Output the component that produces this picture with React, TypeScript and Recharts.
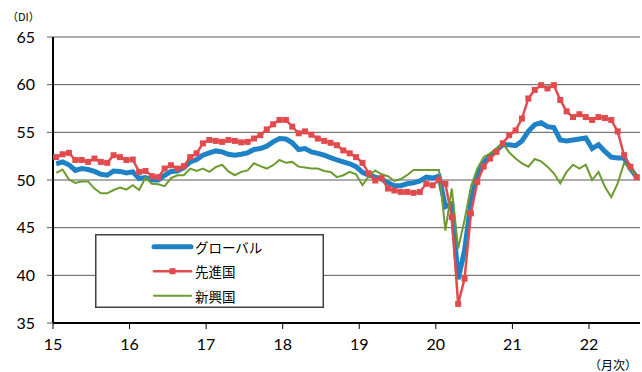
import React from 'react';
import { LineChart, Line, XAxis, YAxis, CartesianGrid, Legend } from 'recharts';

// Manufacturing PMI (DI), monthly, Jan 2015 – Aug 2022
const yearLabels = ['15', '16', '17', '18', '19', '20', '21', '22'];
const yTicks = [35, 40, 45, 50, 55, 60, 65];

const globalPmi = [
  51.7, 51.9, 51.6, 51.0, 51.2, 51.1, 50.9, 50.6, 50.5, 50.95, 50.9, 50.75,
  50.85, 50.15, 50.25, 50.0, 50.0, 50.5, 50.9, 50.95, 51.3, 51.9, 52.15, 52.6,
  52.85, 53.05, 52.95, 52.7, 52.6, 52.7, 52.85, 53.2, 53.3, 53.55, 54.0, 54.35,
  54.3, 53.9, 53.2, 53.3, 52.95, 52.8, 52.6, 52.35, 52.1, 51.9, 51.7, 51.4,
  50.8, 50.5, 50.3, 50.1, 49.7, 49.4, 49.4, 49.6, 49.7, 49.9, 50.3, 50.2,
  50.4, 47.2, 47.5, 39.6, 42.6, 47.7, 50.6, 51.8, 52.5, 53.1, 53.7, 53.7,
  53.6, 54.1, 55.1, 55.8, 56.0, 55.6, 55.5, 54.2, 54.1, 54.2, 54.3, 54.4,
  53.3, 53.7, 53.0, 52.4, 52.3, 52.3, 51.2, 50.3,
];

const advancedPmi = [
  52.4, 52.7, 52.85, 52.1, 52.1, 51.9, 52.25, 51.9, 51.8, 52.6, 52.4, 52.1,
  52.15, 50.85, 50.95, 50.4, 50.3, 51.2, 51.55, 51.2, 51.45, 52.4, 52.8, 53.85,
  54.2, 54.1, 54.0, 54.2, 54.1, 53.95, 54.0, 54.35, 54.7, 55.3, 55.85, 56.3,
  56.3, 55.6, 54.9, 55.1, 54.75, 54.35, 54.1, 53.9, 53.65, 53.1, 52.8, 52.4,
  51.8, 50.7, 49.95, 50.2, 49.1, 48.9, 48.75, 48.75, 48.65, 48.75, 49.6, 49.45,
  50.0, 49.6, 46.1, 37.0, 39.65, 46.5, 49.8, 51.4, 52.25, 52.95, 53.85, 54.7,
  55.2, 56.45, 58.55, 59.45, 59.95, 59.6, 59.95, 58.4, 57.2, 56.6, 56.9, 56.6,
  56.3, 56.6, 56.5, 56.3, 55.1, 52.6, 51.4, 50.3,
];

const emergingPmi = [
  50.75, 51.1, 50.05, 49.7, 49.85, 49.85, 49.1, 48.6, 48.6, 48.95, 49.2, 49.0,
  49.45, 48.95, 50.25, 49.6, 49.55, 49.35, 50.2, 50.5, 50.5, 51.2, 50.95, 51.2,
  50.85, 51.35, 51.6, 50.9, 50.5, 50.85, 51.0, 51.75, 51.45, 51.2, 51.55, 52.1,
  51.8, 51.9, 51.4, 51.3, 51.2, 51.2, 50.95, 50.85, 50.3, 50.5, 50.85, 50.6,
  49.45, 50.4, 51.0, 50.6, 50.4, 49.9, 50.1, 50.5, 51.05, 51.05, 51.05, 51.05,
  51.05, 44.7, 49.1, 42.8, 45.8, 49.3, 51.2, 52.4, 52.8, 53.3, 53.85, 52.9,
  52.25, 51.75, 51.4, 52.2, 51.95, 51.4, 50.7, 49.65, 50.85, 51.6, 51.2, 51.6,
  50.0, 50.85, 49.3, 48.2, 49.65, 51.75, 51.2, 50.2,
];

const seriesNames = ['グローバル', '先進国', '新興国'];
const BLUE = '#1f82c6';
const RED = '#e14b4d';
const GREEN = '#6c9b2e';
const NUM_FONT = 'Lato, "DejaVu Sans", sans-serif';
const JP_FONT = '"Noto Sans CJK JP", sans-serif';

// each month sits in the middle of its slot; year ticks fall on slot edges
const data = globalPmi.map((v, i) => ({
  t: i + 0.5,
  global: v,
  advanced: advancedPmi[i],
  emerging: emergingPmi[i],
}));
const xTicks = yearLabels.map((_, k) => k * 12);

const SquareDot = (props: any) => {
  const { cx, cy, index } = props;
  if (cx == null || cy == null) return <g key={`sq-${index}`} />;
  return <rect key={`sq-${index}`} x={cx - 3} y={cy - 3} width={6} height={6} fill={RED} />;
};

const LegendBox = () => {
  const rows = [
    { name: seriesNames[0], color: BLUE, width: 5, marker: false },
    { name: seriesNames[1], color: RED, width: 2.5, marker: true },
    { name: seriesNames[2], color: GREEN, width: 2, marker: false },
  ];
  return (
    <svg width={229} height={74} style={{ display: 'block' }}>
      <rect x={0.75} y={0.75} width={227.5} height={72.5} fill="#fff" stroke="#404040" strokeWidth={1.5} />
      {rows.map((r, k) => {
        const y = 12.7 + k * 24.5;
        return (
          <g key={r.name}>
            <line x1={59} x2={96} y1={y} y2={y} stroke={r.color} strokeWidth={r.width} strokeLinecap="round" />
            {r.marker && <rect x={74.5} y={y - 3} width={6} height={6} fill={RED} />}
            <text x={100} y={y} dominantBaseline="central" fontSize={13.5} fontFamily={JP_FONT} fill="#000">
              {r.name}
            </text>
          </g>
        );
      })}
    </svg>
  );
};

export default function App() {
  return (
    <div style={{ position: 'absolute', left: 0, top: 0, width: 642, height: 372, background: '#fff' }}>
      <LineChart width={642} height={372} data={data} margin={{ top: 37, right: 2, bottom: 0, left: 0 }}>
        <CartesianGrid vertical={false} stroke="#595959" />
        <XAxis
          type="number"
          dataKey="t"
          domain={[0, 92]}
          ticks={xTicks}
          tickFormatter={(v: number) => yearLabels[Math.round(v / 12)]}
          height={49}
          axisLine={{ stroke: '#000', strokeWidth: 2 }}
          tickLine={{ stroke: '#000' }}
          tickSize={6}
          tickMargin={10}
          tick={{ fontSize: 16, fill: '#000', fontFamily: NUM_FONT }}
        />
        <YAxis
          domain={[35, 65]}
          ticks={yTicks}
          width={53}
          axisLine={{ stroke: '#000', strokeWidth: 2 }}
          tickLine={{ stroke: '#595959' }}
          tickSize={6}
          tickMargin={12}
          tick={{ fontSize: 16, fill: '#000', fontFamily: NUM_FONT }}
        />
        <Line type="linear" dataKey="global" name={seriesNames[0]} stroke={BLUE} strokeWidth={5} dot={false} isAnimationActive={false} />
        <Line type="linear" dataKey="advanced" name={seriesNames[1]} stroke={RED} strokeWidth={2.5} dot={SquareDot} isAnimationActive={false} />
        <Line type="linear" dataKey="emerging" name={seriesNames[2]} stroke={GREEN} strokeWidth={2} dot={false} isAnimationActive={false} />
        <Legend
          layout="vertical"
          align="center"
          verticalAlign="middle"
          content={() => <LegendBox />}
          wrapperStyle={{ left: 95, top: 234, width: 229, height: 74 }}
        />
      </LineChart>
      <div style={{ position: 'absolute', left: 7, top: 9, fontSize: 11, fontFamily: JP_FONT, lineHeight: '14px' }}>（DI）</div>
      <div style={{ position: 'absolute', left: 589, top: 357, fontSize: 12, fontFamily: JP_FONT, lineHeight: '15px' }}>（月次）</div>
    </div>
  );
}
